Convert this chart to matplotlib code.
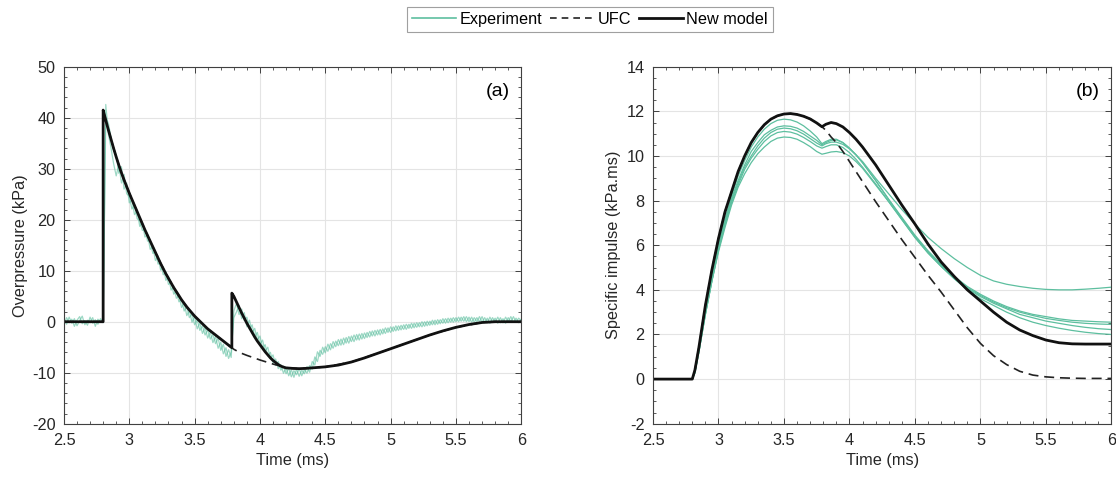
import matplotlib
matplotlib.use("Agg")
import matplotlib.pyplot as plt
from matplotlib.ticker import MultipleLocator
from matplotlib.lines import Line2D
import numpy as np

plt.rcParams['font.family'] = ['Liberation Sans', 'DejaVu Sans']
plt.rcParams['font.size'] = 11.7
plt.rcParams['axes.unicode_minus'] = False

# ---------------- (a) overpressure ----------------
# experiment traces, sampled every 0.02 ms from 2.5 to 6.0 ms
t_exp = np.round(np.arange(2.5, 6.0001, 0.02), 2)
p_exp1 = [0.4, -0.5, 0.9, -0.3, 0.6, -0.8, 0.2, 1.1, -0.6, 0.3, -0.2, 0.8, -0.9, 0.5, -0.1, 0.3,
          42.6, 36.8, 34.1, 31.0, 28.6, 30.9, 27.2, 28.9, 25.1, 24.6, 22.1, 22.9, 20.2, 19.8, 17.9, 18.2,
          15.8, 15.9, 13.4, 13.7, 11.3, 11.6, 9.2, 9.8, 7.3, 7.9, 5.4, 6.1, 3.9, 4.4, 2.1, 3.0,
          0.8, 1.5, -0.6, 0.4, -1.7, -0.8, -2.6, -1.6, -3.4, -2.5, -4.3, -3.2, -5.6, -4.4, -6.8, -5.5,
          -7.0, 2.1, 3.6, 1.4, 2.5, 0.2, 0.9, -1.5, -0.6, -2.9, -2.1, -4.4, -3.6, -5.8, -5.0, -7.2,
          -6.5, -8.6, -7.8, -9.5, -8.7, -10.2, -9.1, -10.8, -9.6, -10.4, -9.2, -10.6, -9.4, -10.1, -8.6, -9.3,
          -6.9, -7.8, -5.6, -6.4, -4.9, -5.8, -4.3, -5.2, -3.8, -4.7, -3.4, -4.5, -3.1, -4.2, -2.8, -3.9,
          -2.5, -3.6, -2.3, -3.3, -2.1, -3.0, -1.8, -2.8, -1.6, -2.6, -1.4, -2.3, -1.2, -2.1, -1.0, -1.8,
          -0.8, -1.6, -0.6, -1.5, -0.5, -1.3, -0.3, -1.1, -0.2, -1.0, 0.0, -0.8, 0.1, -0.6, 0.3, -0.5,
          0.4, -0.3, 0.6, -0.2, 0.7, -0.1, 0.8, 0.0, 0.9, 0.1, 1.0, 0.0, 0.9, -0.1, 0.8, 0.0,
          1.0, -0.2, 0.7, -0.3, 0.8, -0.1, 0.9, -0.2, 0.6, -0.3, 0.8, 0.0, 1.0, -0.1, 0.7, 0.2]
p_exp2 = [-0.6, 0.8, -0.2, 0.5, -0.9, 0.3, 1.0, -0.4, 0.2, -0.7, 0.9, -0.3, 0.4, -0.5, 0.6, -0.2,
          40.1, 38.9, 36.2, 33.5, 32.8, 29.1, 30.4, 26.0, 27.2, 23.3, 23.9, 21.0, 21.8, 18.7, 19.4, 16.6,
          17.1, 14.2, 14.8, 12.0, 12.9, 10.1, 10.8, 8.1, 8.9, 6.2, 7.0, 4.6, 5.2, 2.8, 3.7, 1.2,
          2.2, -0.1, 1.0, -1.4, -0.2, -2.3, -1.1, -3.2, -2.0, -4.1, -2.9, -5.2, -4.0, -6.3, -5.1, -7.2,
          -5.9, 0.8, 1.9, 3.2, 0.6, 1.8, -1.0, 0.3, -2.2, -1.3, -3.6, -2.8, -5.1, -4.5, -6.7, -6.0,
          -8.1, -7.3, -9.2, -8.4, -10.1, -9.0, -10.6, -9.4, -10.9, -9.3, -10.7, -9.5, -10.2, -8.8, -9.9, -7.8,
          -8.5, -5.9, -6.8, -5.0, -6.1, -4.4, -5.5, -3.9, -4.9, -3.5, -4.6, -3.2, -4.2, -2.9, -3.9, -2.6,
          -3.6, -2.4, -3.4, -2.2, -3.1, -1.9, -2.8, -1.7, -2.6, -1.5, -2.4, -1.2, -2.1, -1.0, -1.9, -0.8,
          -1.7, -0.7, -1.5, -0.5, -1.3, -0.3, -1.2, -0.2, -1.0, 0.0, -0.9, 0.1, -0.7, 0.3, -0.6, 0.4,
          -0.4, 0.6, -0.3, 0.7, -0.1, 0.8, 0.0, 0.9, 0.1, 1.0, 0.0, 0.9, -0.1, 0.8, 0.0, 1.0,
          -0.1, 0.8, -0.2, 0.9, -0.1, 0.7, -0.3, 0.8, -0.2, 0.9, 0.0, 1.0, -0.1, 0.7, -0.2, 0.5]

# new model overpressure
t_mod = [2.5, 2.8, 2.8, 2.82, 2.84, 2.86, 2.88, 2.9, 2.92, 2.94, 2.96, 2.98, 3.0, 3.02, 3.04, 3.06,
         3.08, 3.1, 3.12, 3.14, 3.16, 3.18, 3.2, 3.22, 3.24, 3.26, 3.28, 3.3, 3.32, 3.34, 3.36, 3.38,
         3.4, 3.42, 3.44, 3.46, 3.48, 3.5, 3.52, 3.54, 3.56, 3.58, 3.6, 3.62, 3.64, 3.66, 3.68, 3.7,
         3.72, 3.74, 3.76, 3.785, 3.785, 3.8, 3.82, 3.84, 3.86, 3.88, 3.9, 3.92, 3.94, 3.96, 3.98, 4.0,
         4.02, 4.04, 4.06, 4.08, 4.1, 4.12, 4.14, 4.16, 4.18, 4.2, 4.25, 4.3, 4.35, 4.4, 4.45, 4.5,
         4.6, 4.7, 4.8, 4.9, 5.0, 5.1, 5.2, 5.3, 5.4, 5.5, 5.6, 5.7, 5.8, 6.0]
p_mod = [0, 0, 41.5, 39.5, 37.6, 35.8, 34.0, 32.3, 30.7, 29.2, 27.8, 26.5, 25.2, 24.0, 22.8, 21.6,
         20.4, 19.2, 18.0, 16.9, 15.8, 14.7, 13.6, 12.5, 11.4, 10.4, 9.4, 8.5, 7.6, 6.7, 5.9, 5.1,
         4.3, 3.6, 2.9, 2.3, 1.7, 1.1, 0.6, 0.1, -0.4, -0.9, -1.4, -1.8, -2.2, -2.6, -3.0, -3.4,
         -3.8, -4.2, -4.6, -5.1, 5.6, 5.0, 3.9, 2.8, 1.7, 0.7, -0.3, -1.2, -2.1, -3.0, -3.8, -4.5,
         -5.2, -5.9, -6.5, -7.1, -7.6, -8.0, -8.4, -8.7, -8.9, -9.05, -9.15, -9.2, -9.15, -9.05, -8.95, -8.85,
         -8.5, -7.9, -7.1, -6.2, -5.3, -4.4, -3.5, -2.6, -1.8, -1.1, -0.55, -0.15, 0, 0]

# UFC overpressure: same as new model up to the second shock, then smooth
t_ufc = [2.5, 2.8, 2.8, 2.82, 2.86, 2.9, 2.94, 2.98, 3.02, 3.06, 3.1, 3.14, 3.18, 3.22, 3.26, 3.3,
         3.34, 3.38, 3.42, 3.46, 3.5, 3.54, 3.58, 3.62, 3.66, 3.7, 3.74, 3.785, 3.8, 3.85, 3.9, 3.95,
         4.0, 4.05, 4.1, 4.15, 4.2, 4.25, 4.3, 4.4, 4.5, 4.7, 4.9, 5.1, 5.3, 5.5, 5.7, 5.8, 6.0]
p_ufc = [0, 0, 41.5, 39.5, 35.8, 32.3, 29.2, 26.5, 24.0, 21.6, 19.2, 16.9, 14.7, 12.5, 10.4, 8.5,
         6.7, 5.1, 3.6, 2.3, 1.1, 0.1, -0.9, -1.8, -2.6, -3.4, -4.2, -5.1, -5.4, -6.1, -6.6, -7.05,
         -7.5, -7.9, -8.3, -8.65, -9.0, -9.15, -9.2, -9.05, -8.85, -7.9, -6.2, -4.4, -2.6, -1.1, -0.15, 0, 0]

# ---------------- (b) specific impulse ----------------
t_imp = [2.5, 2.8, 2.82, 2.85, 2.9, 2.95, 3.0, 3.05, 3.1, 3.15, 3.2, 3.25, 3.3, 3.35, 3.4, 3.45,
         3.5, 3.55, 3.6, 3.65, 3.7, 3.75, 3.79, 3.82, 3.86, 3.9, 3.95, 4.0, 4.05, 4.1, 4.2, 4.3, 4.4,
         4.5, 4.6, 4.7, 4.8, 4.9, 5.0, 5.1, 5.2, 5.3, 5.4, 5.5, 5.6, 5.7, 5.8, 5.9, 6.0]
i_exp1 = [0, 0, 0.3, 1.3, 3.0, 4.6, 6.0, 7.2, 8.2, 9.1, 9.8, 10.4, 10.85, 11.2, 11.45, 11.6,
          11.65, 11.62, 11.52, 11.35, 11.12, 10.85, 10.55, 10.65, 10.75, 10.75, 10.6, 10.35, 10.05, 9.7, 8.9, 8.05, 7.25,
          6.45, 5.75, 5.15, 4.6, 4.15, 3.8, 3.5, 3.25, 3.05, 2.9, 2.8, 2.7, 2.63, 2.6, 2.57, 2.55]
i_exp2 = [0, 0, 0.3, 1.3, 3.0, 4.5, 5.9, 7.1, 8.1, 8.9, 9.6, 10.2, 10.6, 10.95, 11.15, 11.3,
          11.35, 11.33, 11.25, 11.1, 10.9, 10.7, 10.5, 10.6, 10.7, 10.72, 10.6, 10.35, 10.05, 9.7, 8.9, 8.05, 7.2,
          6.4, 5.7, 5.1, 4.55, 4.1, 3.75, 3.45, 3.2, 3.0, 2.85, 2.72, 2.63, 2.55, 2.5, 2.47, 2.45]
i_exp3 = [0, 0, 0.3, 1.2, 2.9, 4.4, 5.8, 7.0, 8.0, 8.8, 9.5, 10.0, 10.45, 10.8, 11.05, 11.2,
          11.25, 11.22, 11.13, 10.98, 10.78, 10.58, 10.45, 10.55, 10.62, 10.62, 10.52, 10.32, 10.05, 9.75, 9.0, 8.3, 7.6,
          6.95, 6.35, 5.85, 5.4, 5.0, 4.65, 4.4, 4.25, 4.15, 4.07, 4.02, 4.0, 4.0, 4.03, 4.07, 4.12]
i_exp4 = [0, 0, 0.3, 1.2, 2.9, 4.4, 5.8, 6.9, 7.9, 8.7, 9.4, 9.9, 10.3, 10.65, 10.9, 11.05,
          11.1, 11.07, 10.98, 10.83, 10.65, 10.45, 10.35, 10.42, 10.5, 10.5, 10.38, 10.15, 9.85, 9.5, 8.75, 7.95, 7.15,
          6.35, 5.65, 5.05, 4.5, 4.05, 3.7, 3.4, 3.15, 2.9, 2.75, 2.6, 2.5, 2.4, 2.32, 2.26, 2.22]
i_exp5 = [0, 0, 0.3, 1.2, 2.9, 4.4, 5.7, 6.8, 7.8, 8.6, 9.2, 9.7, 10.1, 10.4, 10.65, 10.8,
          10.85, 10.83, 10.75, 10.6, 10.42, 10.2, 10.08, 10.12, 10.18, 10.2, 10.15, 10.0, 9.75, 9.45, 8.7, 7.95, 7.15,
          6.35, 5.65, 5.05, 4.5, 4.0, 3.6, 3.3, 3.0, 2.75, 2.55, 2.4, 2.28, 2.18, 2.1, 2.04, 2.0]
i_mod = [0, 0, 0.4, 1.4, 3.3, 4.9, 6.3, 7.5, 8.4, 9.3, 10.0, 10.6, 11.05, 11.4, 11.65, 11.8,
         11.88, 11.9, 11.86, 11.78, 11.66, 11.48, 11.31, 11.42, 11.5, 11.45, 11.3, 11.05, 10.75, 10.4, 9.6, 8.7, 7.8,
         6.95, 6.05, 5.25, 4.6, 4.0, 3.5, 3.0, 2.55, 2.2, 1.95, 1.75, 1.63, 1.58, 1.57, 1.57, 1.57]
i_ufc = [0, 0, 0.4, 1.4, 3.3, 4.9, 6.3, 7.5, 8.4, 9.3, 10.0, 10.6, 11.05, 11.4, 11.65, 11.8,
         11.88, 11.9, 11.86, 11.78, 11.66, 11.48, 11.31, 11.15, 10.85, 10.6, 10.2, 9.75, 9.3, 8.85, 7.95, 7.1, 6.25,
         5.45, 4.65, 3.9, 3.1, 2.3, 1.6, 1.05, 0.65, 0.35, 0.18, 0.1, 0.06, 0.04, 0.03, 0.03, 0.03]

teal = "#5dbf9f"
axcol = "#404040"

fig = plt.figure(figsize=(11.16, 4.79), dpi=100)
ax1 = fig.add_axes([0.0573, 0.1154, 0.4098, 0.7453])
ax2 = fig.add_axes([0.5851, 0.1154, 0.4108, 0.7453])

for tr in [p_exp1, p_exp2]:
    ax1.plot(t_exp, tr, color=teal, lw=0.9, alpha=0.6)
ax1.plot(t_ufc, p_ufc, color="#222222", lw=1.2, linestyle=(0, (6, 3.5)))
ax1.plot(t_mod, p_mod, color="#111111", lw=2.0)

for tr in [i_exp1, i_exp2, i_exp3, i_exp4, i_exp5]:
    ax2.plot(t_imp, tr, color=teal, lw=0.9)
ax2.plot(t_imp, i_ufc, color="#222222", lw=1.2, linestyle=(0, (6, 3.5)))
ax2.plot(t_imp, i_mod, color="#111111", lw=2.0)

ax1.set_ylim(-20, 50)
ax1.yaxis.set_major_locator(MultipleLocator(10))
ax1.yaxis.set_minor_locator(MultipleLocator(2))
ax1.set_ylabel("Overpressure (kPa)", labelpad=3)
ax1.text(0.975, 0.955, "(a)", transform=ax1.transAxes, ha="right", va="top", fontsize=14)

ax2.set_ylim(-2, 14)
ax2.yaxis.set_major_locator(MultipleLocator(2))
ax2.yaxis.set_minor_locator(MultipleLocator(0.5))
ax2.set_ylabel("Specific impulse (kPa.ms)", labelpad=4)
ax2.text(0.975, 0.955, "(b)", transform=ax2.transAxes, ha="right", va="top", fontsize=14)

for ax in [ax1, ax2]:
    ax.set_xlim(2.5, 6)
    ax.xaxis.set_major_locator(MultipleLocator(0.5))
    ax.xaxis.set_minor_locator(MultipleLocator(0.1))
    ax.set_xticks([2.5, 3, 3.5, 4, 4.5, 5, 5.5, 6])
    ax.set_xticklabels(["2.5", "3", "3.5", "4", "4.5", "5", "5.5", "6"])
    ax.set_xlabel("Time (ms)", color="#262626", labelpad=3)
    ax.yaxis.label.set_color("#262626")
    ax.grid(True, which="major", color="#e4e4e4", lw=0.8)
    ax.set_axisbelow(True)
    ax.tick_params(which="both", direction="in", top=True, right=True, colors=axcol,
                   labelcolor="#262626", labelsize=11.7)
    ax.tick_params(axis="x", which="major", pad=7)
    ax.tick_params(axis="y", which="major", pad=6)
    ax.tick_params(which="major", length=4.5, width=0.7)
    ax.tick_params(which="minor", length=2.5, width=0.6)
    for s in ax.spines.values():
        s.set_color(axcol)
        s.set_linewidth(0.8)

handles = [Line2D([], [], color=teal, lw=1.2),
           Line2D([], [], color="#222222", lw=1.2, linestyle=(0, (4, 3))),
           Line2D([], [], color="#111111", lw=2.0)]
leg = fig.legend(handles, ["Experiment", "UFC", "New model"], loc="center",
                 bbox_to_anchor=(0.5287, 0.960), ncol=3, frameon=True, fancybox=False,
                 handlelength=2.7, handletextpad=0.2, columnspacing=0.5, borderpad=0.3,
                 fontsize=11.7)
leg.get_frame().set_edgecolor("#888888")
leg.get_frame().set_linewidth(0.8)

fig.savefig("out.png", dpi=100)
